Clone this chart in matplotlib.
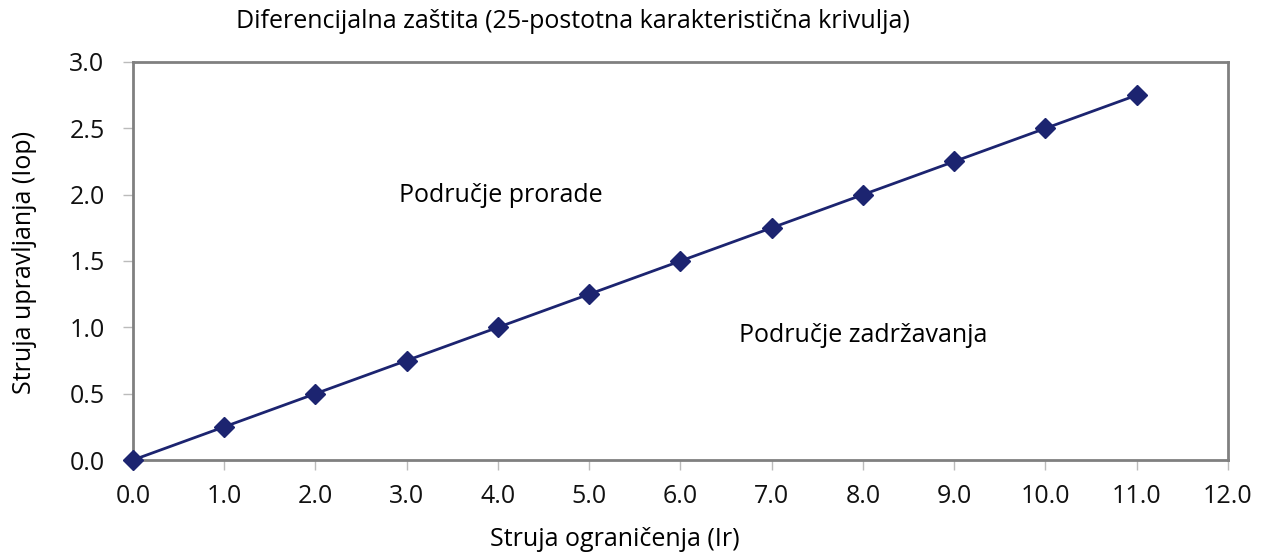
import matplotlib
matplotlib.use("Agg")
import matplotlib.pyplot as plt

# data
restraint = [0, 1, 2, 3, 4, 5, 6, 7, 8, 9, 10, 11]
operate = [0.0, 0.25, 0.5, 0.75, 1.0, 1.25, 1.5, 1.75, 2.0, 2.25, 2.5, 2.75]
x_ticks = [0, 1, 2, 3, 4, 5, 6, 7, 8, 9, 10, 11, 12]
y_ticks = [0.0, 0.5, 1.0, 1.5, 2.0, 2.5, 3.0]

plt.rcParams.update({
    "font.family": ["Open Sans", "DejaVu Sans"],
    "font.size": 18,
})

NAVY = "#1c2470"
SPINE = "#808080"
FS = 18

fig = plt.figure(figsize=(12.72, 5.6), dpi=100)
ax = fig.add_axes([133 / 1272, 100 / 560, 1095 / 1272, 398 / 560])

ax.plot(restraint, operate, color=NAVY, linewidth=2, marker="D",
        markersize=10, markerfacecolor=NAVY, markeredgecolor=NAVY,
        clip_on=False, zorder=3)

ax.set_xlim(0, 12)
ax.set_ylim(0, 3)
ax.set_xticks(x_ticks)
ax.set_xticklabels([f"{v:.1f}" for v in x_ticks])
ax.set_yticks(y_ticks)
ax.set_yticklabels([f"{v:.1f}" for v in y_ticks])

for s in ax.spines.values():
    s.set_color(SPINE)
    s.set_linewidth(2)
ax.tick_params(axis="both", colors="#bbbbbb", length=7.5, width=1,
               labelcolor="#111111", labelsize=FS)
ax.tick_params(axis="x", pad=10)
ax.tick_params(axis="y", pad=13)

ax.set_xlabel("Struja ograničenja (Ir)", fontsize=FS, va="center")
ax.xaxis.set_label_coords((615 - 133) / 1095, -(540 - 460) / 398)
ax.set_ylabel("Struja upravljanja (Iop)", fontsize=FS, va="center")
ax.yaxis.set_label_coords(-(133 - 24) / 1095, (460 - 262) / 398)

ax.text(2.92, 1.99, "Područje prorade", fontsize=FS, va="center", ha="left")
ax.text(6.64, 0.94, "Područje zadržavanja", fontsize=FS, va="center", ha="left")

fig.text(573 / 1272, 1 - 22 / 560,
         "Diferencijalna zaštita (25-postotna karakteristična krivulja)",
         fontsize=FS, ha="center", va="center")

fig.savefig("out.png", dpi=100, facecolor="white")
